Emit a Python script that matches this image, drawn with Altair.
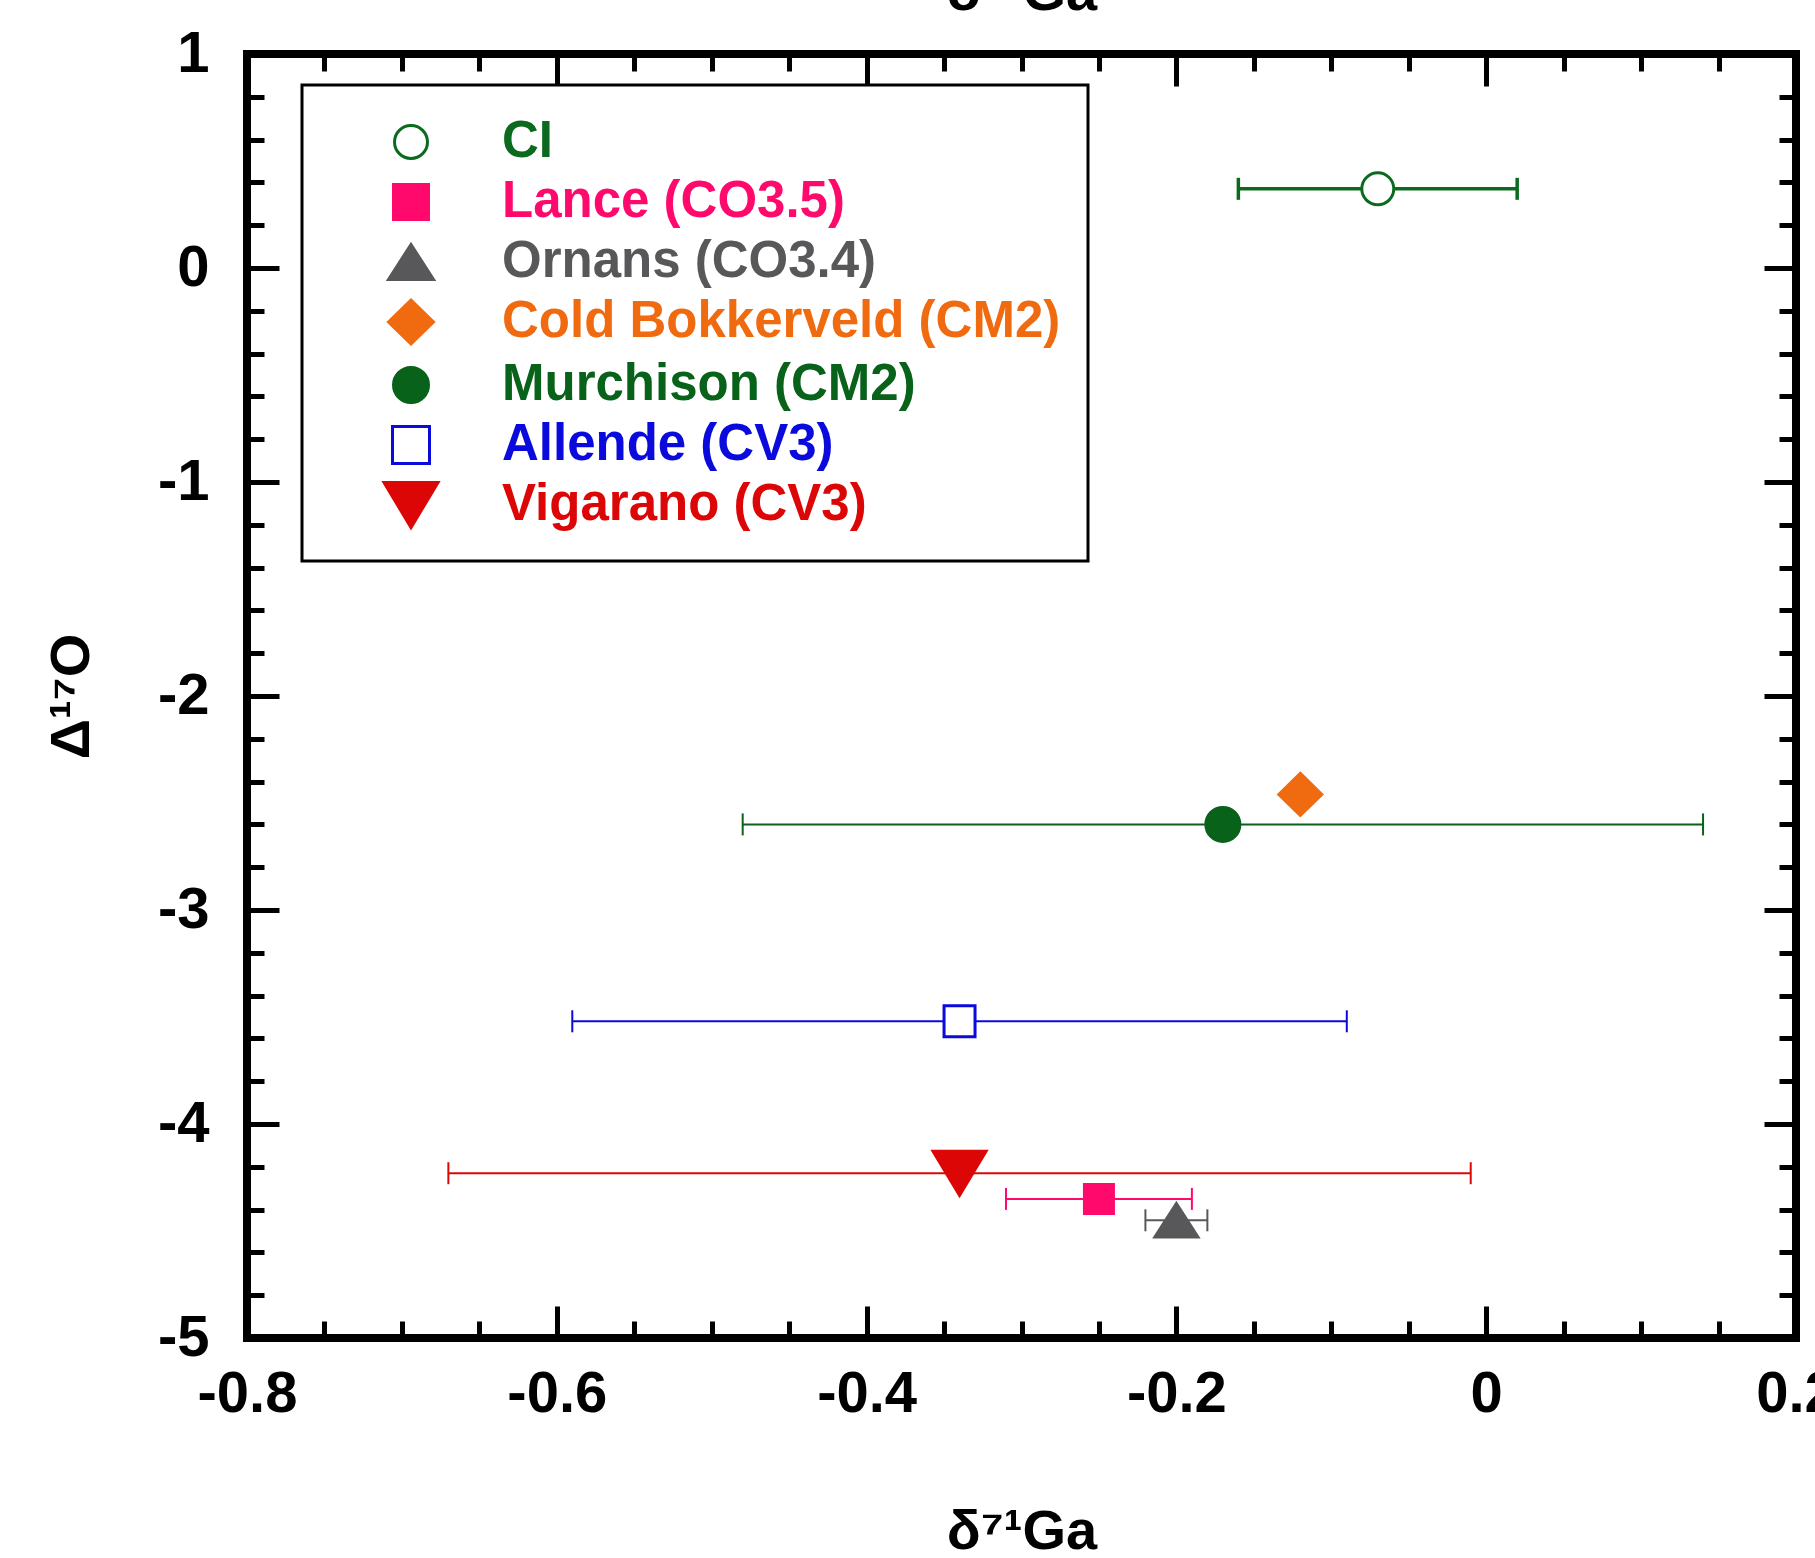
import altair as alt
import pandas as pd

# ---------------- data ----------------
names = ["CI", "Lance (CO3.5)", "Ornans (CO3.4)", "Cold Bokkerveld (CM2)",
         "Murchison (CM2)", "Allende (CV3)", "Vigarano (CV3)"]
ga71 = [-0.07, -0.25, -0.20, -0.12, -0.17, -0.34, -0.34]
d17o = [0.37, -4.35, -4.45, -2.46, -2.60, -3.52, -4.23]
ga71_err = [0.09, 0.06, 0.02, None, 0.31, 0.25, 0.33]

x_major = [-0.8, -0.6, -0.4, -0.2, 0.0, 0.2]
y_major = [-5, -4, -3, -2, -1, 0, 1]
x_minor = [round(-0.8 + 0.05 * i, 2) for i in range(21) if i % 4 != 0]
y_minor = [round(-5 + 0.2 * i, 1) for i in range(31) if i % 5 != 0]

x_title = "δ⁷¹Ga"
y_title = "Δ¹⁷O"

# ---------------- styles ----------------
kinds = ["circle", "square", "triangle-up", "diamond", "circle", "square", "triangle-down"]
stroke_colors = ["#0c6a1e", "#ff0a6c", "#58585b", "#f06a10", "#08621a", "#0a0adc", "#dc0606"]
fill_colors = ["white", "#ff0a6c", "#58585b", "#f06a10", "#08621a", "white", "#dc0606"]
# outer (width, height) in px of legend symbols and plotted symbols
legend_dims = [(36, 36), (38, 38), (48, 38), (48, 47), (38, 38), (40, 40), (57, 48)]
plot_dims = [(35, 35), (32, 32), (46, 36), (46, 46), (37, 37), (34, 34), (56, 46)]
bar_widths = [3.5, 2, 2, 2, 2, 2, 2]
MARK_STROKE = 3
LEG_UNIT = 57.0  # sqrt(symbolSize) of legend


def path_for(kind, hw, hh):
    a, b = round(hw, 4), round(hh, 4)
    if kind == "circle":
        return f"M{-a},0A{a},{b} 0 1,0 {a},0A{a},{b} 0 1,0 {-a},0Z"
    if kind == "square":
        return f"M{-a},{-b}L{a},{-b}L{a},{b}L{-a},{b}Z"
    if kind == "triangle-up":
        return f"M0,{-b}L{a},{b}L{-a},{b}Z"
    if kind == "triangle-down":
        return f"M{-a},{-b}L{a},{-b}L0,{b}Z"
    return f"M0,{-b}L{a},0L0,{b}L{-a},0Z"


shape_paths = []
for k, (w, h) in zip(kinds, legend_dims):
    hw = (w - MARK_STROKE) / 2 / (LEG_UNIT / 2)
    hh = (h - MARK_STROKE) / 2 / (LEG_UNIT / 2)
    shape_paths.append(path_for(k, hw, hh))

plot_sizes = []
for (w, _), (lw, _) in zip(plot_dims, legend_dims):
    plot_sizes.append(round((LEG_UNIT * (w - MARK_STROKE) / (lw - MARK_STROKE)) ** 2, 1))

FONT = "Liberation Sans"

df = pd.DataFrame({
    "name": names, "x": ga71, "y": d17o, "err": ga71_err,
    "msize": plot_sizes, "bw": bar_widths,
})
df["lo"] = df["x"] - df["err"]
df["hi"] = df["x"] + df["err"]

# error-bar colour scale: only the samples that have an error bar
bar_names = [n for n, e in zip(names, ga71_err) if e is not None]
bar_colors = [c for c, e in zip(stroke_colors, ga71_err) if e is not None]

xs = alt.Scale(domain=[-0.8, 0.2], nice=False, zero=False)
ys = alt.Scale(domain=[-5, 1], nice=False, zero=False)


def ax(orient, values, size, **kw):
    base = dict(orient=orient, values=values, tickSize=alt.ExprRef(expr=str(-size)),
                tickWidth=5, tickColor="black", domain=False, grid=False,
                labels=False, title=None)
    base.update(kw)
    return alt.Axis(**base)


lab = dict(labels=True, labelFont=FONT, labelFontSize=58, labelFontWeight="bold",
           labelColor="black", labelOverlap=False, labelFlush=False)
ttl = dict(titleFont=FONT, titleFontSize=56, titleFontWeight="bold", titleColor="black")

major_bottom = ax("bottom", x_major, 32, labelPadding=59,
                  labelExpr="replace(format(datum.value, '.1~f'), '\u2212', '-')",
                  title=x_title, titleY=210, titleBaseline="alphabetic", **lab, **ttl)
major_left = ax("left", y_major, 32, labelPadding=70,
                labelExpr="replace(format(datum.value, 'd'), '\u2212', '-')",
                title=y_title, titleX=-159, titleY=642, titleAngle=270,
                titleAlign="center", titleBaseline="alphabetic", **lab, **ttl)
major_top = ax("top", x_major, 32, title=x_title, titleY=-45,
               titleBaseline="alphabetic", **ttl)
major_right = ax("right", y_major, 32)
minor_bottom = ax("bottom", x_minor, 17)
minor_left = ax("left", y_minor, 17)
minor_top = ax("top", x_minor, 17)
minor_right = ax("right", y_minor, 17)

names_js = "[" + ",".join("'" + n + "'" for n in names) + "]"
label_color_expr = ("[" + ",".join("'" + c + "'" for c in stroke_colors) + "][indexof("
                    + names_js + ", datum.value)]")

legend_obj = alt.Legend(
    title=None, orient="none", legendX=55, legendY=31,
    padding=27, rowPadding=5, symbolSize=LEG_UNIT ** 2, symbolStrokeWidth=MARK_STROKE,
    symbolOffset=52, labelOffset=61, symbolOpacity=1,
    labelFont=FONT, labelFontSize=51, labelFontWeight="bold", labelLimit=1000,
    labelColor=alt.ExprRef(expr=label_color_expr),
    strokeColor="black", fillColor="white",
)

bar_color = alt.Color("name:N", scale=alt.Scale(domain=bar_names, range=bar_colors), legend=None)

base = alt.Chart(df)
with_err = base.transform_filter("isValid(datum.err)")

rules = with_err.mark_rule(opacity=1).encode(
    x=alt.X("lo:Q", scale=xs, axis=major_bottom),
    x2="hi:Q",
    y=alt.Y("y:Q", scale=ys, axis=major_left),
    color=bar_color,
    strokeWidth=alt.StrokeWidth("bw:Q", scale=None),
)

caps_lo = with_err.mark_point(shape="stroke", angle=90, size=484, opacity=1, filled=False).encode(
    x=alt.X("lo:Q", scale=xs, axis=major_top),
    y=alt.Y("y:Q", scale=ys, axis=major_right),
    color=bar_color,
    strokeWidth=alt.StrokeWidth("bw:Q", scale=None),
)

caps_hi = with_err.mark_point(shape="stroke", angle=90, size=484, opacity=1, filled=False).encode(
    x=alt.X("hi:Q", scale=xs, axis=minor_bottom),
    y=alt.Y("y:Q", scale=ys, axis=minor_left),
    color=bar_color,
    strokeWidth=alt.StrokeWidth("bw:Q", scale=None),
)

points = base.mark_point(opacity=1, filled=False, strokeWidth=MARK_STROKE).encode(
    x=alt.X("x:Q", scale=xs, axis=minor_top),
    y=alt.Y("y:Q", scale=ys, axis=minor_right),
    stroke=alt.Stroke("name:N", scale=alt.Scale(domain=names, range=stroke_colors), legend=legend_obj),
    fill=alt.Fill("name:N", scale=alt.Scale(domain=names, range=fill_colors), legend=legend_obj),
    shape=alt.Shape("name:N", scale=alt.Scale(domain=names, range=shape_paths), legend=legend_obj),
    size=alt.Size("msize:Q", scale=None),
)

chart = alt.layer(rules, caps_lo, caps_hi, points).resolve_axis(
    x="independent", y="independent"
).properties(
    width=1549, height=1284,
    autosize=alt.AutoSizeParams(type="none"),
    padding={"left": 247, "top": 54, "right": 19, "bottom": 220},
    background="white",
).configure(font=FONT).configure_view(stroke="black", strokeWidth=8).configure_legend(strokeWidth=3)

chart.save("out.html", embed_options={"renderer": "svg", "actions": False})
